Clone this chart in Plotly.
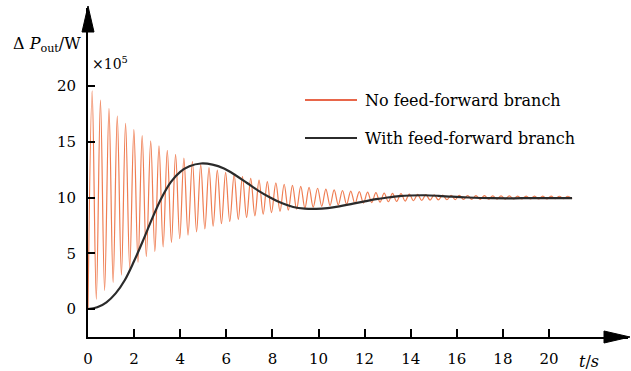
import plotly.graph_objects as go

# ---- data ----
t_orange = [
    0.00, 0.18, 0.36, 0.54, 0.72, 0.91, 1.09, 1.27, 1.45, 1.63,
    1.81, 1.99, 2.17, 2.35, 2.53, 2.72, 2.90, 3.08, 3.26, 3.44,
    3.62, 3.80, 3.98, 4.16, 4.34, 4.53, 4.71, 4.89, 5.07, 5.25,
    5.43, 5.61, 5.79, 5.97, 6.15, 6.34, 6.52, 6.70, 6.88, 7.06,
    7.24, 7.42, 7.60, 7.78, 7.96, 8.15, 8.33, 8.51, 8.69, 8.87,
    9.05, 9.23, 9.41, 9.59, 9.77, 9.96, 10.14, 10.32, 10.50, 10.68,
    10.86, 11.04, 11.22, 11.40, 11.58, 11.77, 11.95, 12.13, 12.31, 12.49,
    12.67, 12.85, 13.03, 13.21, 13.39, 13.58, 13.76, 13.94, 14.12, 14.30,
    14.48, 14.66, 14.84, 15.02, 15.20, 15.39, 15.57, 15.75, 15.93, 16.11,
    16.29, 16.47, 16.65, 16.83, 17.01, 17.20, 17.38, 17.56, 17.74, 17.92,
    18.10, 18.28, 18.46, 18.64, 18.82, 19.01, 19.19, 19.37, 19.55, 19.73,
    19.91, 20.09, 20.27, 20.45, 20.63, 20.82, 21.00,
]
p_no_ff = [
    0.00, 19.56, 0.87, 18.73, 1.66, 17.98, 2.38, 17.29, 3.04, 16.66,
    3.64, 16.08, 4.19, 15.55, 4.69, 15.07, 5.15, 14.63, 5.57, 14.23,
    5.96, 13.87, 6.31, 13.53, 6.63, 13.23, 6.92, 12.95, 7.18, 12.69,
    7.43, 12.46, 7.65, 12.25, 7.85, 12.05, 8.04, 11.87, 8.21, 11.71,
    8.36, 11.56, 8.51, 11.43, 8.64, 11.31, 8.75, 11.19, 8.86, 11.09,
    8.96, 11.00, 9.05, 10.91, 9.13, 10.83, 9.21, 10.76, 9.28, 10.69,
    9.34, 10.63, 9.40, 10.58, 9.45, 10.53, 9.50, 10.48, 9.54, 10.44,
    9.58, 10.40, 9.62, 10.37, 9.65, 10.34, 9.68, 10.31, 9.71, 10.28,
    9.73, 10.26, 9.76, 10.24, 9.78, 10.22, 9.80, 10.20, 9.81, 10.19,
    9.82, 10.18, 9.83, 10.17, 9.84, 10.16, 9.85, 10.15, 9.86, 10.14,
    9.86, 10.14, 9.87, 10.13, 9.87, 10.13, 9.88, 10.12, 9.88, 10.12,
    9.88, 10.12, 9.89, 10.11, 9.89, 10.11, 9.89,
]

t_black = [0.0, 0.4, 0.8, 1.2, 1.6, 2.0, 2.4, 2.8, 3.2, 3.6, 4.0, 4.4, 4.9,
           5.4, 5.9, 6.4, 6.9, 7.4, 7.9, 8.4, 8.9, 9.4, 9.9, 10.4, 10.9,
           11.5, 12.0, 12.5, 13.0, 13.5, 14.0, 14.6, 15.2, 15.8, 16.5,
           17.5, 18.5, 19.5, 21.0]
p_with_ff = [0.0, 0.15, 0.6, 1.4, 2.6, 4.3, 6.2, 8.2, 10.0, 11.4, 12.3, 12.8, 13.05,
             12.95, 12.6, 12.0, 11.3, 10.6, 10.0, 9.5, 9.15, 9.0, 8.98, 9.05, 9.2,
             9.45, 9.65, 9.85, 10.0, 10.12, 10.18, 10.2, 10.15, 10.07, 10.0,
             9.94, 9.93, 9.95, 9.95]

x_ticks = [0, 2, 4, 6, 8, 10, 12, 14, 16, 18, 20]
y_ticks = [0, 5, 10, 15, 20]
series_names = ["No feed-forward branch", "With feed-forward branch"]

ORANGE = "#EF7D52"
BLACK = "#2b2b2b"
SERIF = "DejaVu Serif"

fig = go.Figure()
fig.add_trace(go.Scatter(x=t_orange, y=p_no_ff, mode="lines", name=series_names[0],
                         line=dict(color=ORANGE, width=1.2, shape="spline", smoothing=1.0),
                         showlegend=False))
fig.add_trace(go.Scatter(x=t_black, y=p_with_ff, mode="lines", name=series_names[1],
                         line=dict(color=BLACK, width=2.2, shape="spline", smoothing=1.0),
                         showlegend=False))

W, H = 631, 371
ML, MR, MT, MB = 88, 3, 8, 34
PW = W - ML - MR
PH = H - MT - MB

def px(x):
    return (x - ML) / PW

def py(y):
    return (H - MB - y) / PH

fig.update_layout(
    width=W, height=H,
    margin=dict(l=ML, r=MR, t=MT, b=MB, pad=0),
    paper_bgcolor="white", plot_bgcolor="white",
    font=dict(family=SERIF, size=15, color="black"),
    xaxis=dict(range=[0, PW / 23.05], tickvals=x_ticks, ticktext=[str(v) for v in x_ticks],
               showgrid=False, zeroline=False, showline=True, linecolor="black", linewidth=2,
               ticks="inside", ticklen=8, tickwidth=1.5, tickcolor="black",
               ticklabelstandoff=7, tickfont=dict(family=SERIF, size=15, color="black")),
    yaxis=dict(range=[-(H - MB - 309) / 11.15, (309 - MT) / 11.15], tickvals=y_ticks,
               ticktext=[str(v) for v in y_ticks],
               showgrid=False, zeroline=False, showline=True, linecolor="black", linewidth=2,
               ticks="inside", ticklen=7, tickwidth=1.5, tickcolor="black",
               ticklabelstandoff=7, tickfont=dict(family=SERIF, size=15, color="black")),
)

shapes = []
# arrowheads
shapes.append(dict(type="path", xref="paper", yref="paper",
                   path=f"M {px(82)} {py(32)} L {px(88)} {py(6)} L {px(94)} {py(32)} Z",
                   fillcolor="black", line=dict(color="black", width=1)))
shapes.append(dict(type="path", xref="paper", yref="paper",
                   path=f"M {px(604)} {py(331)} L {px(630)} {py(337)} L {px(604)} {py(343)} Z",
                   fillcolor="black", line=dict(color="black", width=1)))
# legend samples
shapes.append(dict(type="line", xref="paper", yref="paper", x0=px(305), x1=px(357),
                   y0=py(100), y1=py(100), line=dict(color="#E8664A", width=2)))
shapes.append(dict(type="line", xref="paper", yref="paper", x0=px(305), x1=px(357),
                   y0=py(138), y1=py(138), line=dict(color=BLACK, width=2)))
fig.update_layout(shapes=shapes)

ann = [
    dict(x=px(363), y=py(100), text=series_names[0], xanchor="left", yanchor="middle",
         font=dict(family=SERIF, size=16, color="black")),
    dict(x=px(363), y=py(138), text=series_names[1], xanchor="left", yanchor="middle",
         font=dict(family=SERIF, size=16, color="black")),
    dict(x=px(11), y=py(45), text="Δ <i>P</i><sub>out</sub>/W", xanchor="left", yanchor="middle",
         font=dict(family=SERIF, size=16, color="black")),
    dict(x=px(90), y=py(63), text="×10<sup>5</sup>", xanchor="left", yanchor="middle",
         font=dict(family=SERIF, size=14, color="black")),
    dict(x=px(577), y=py(361), text="<i>t</i>/<i>s</i>", xanchor="left", yanchor="middle",
         font=dict(family=SERIF, size=16, color="black")),
]
for a in ann:
    a.update(xref="paper", yref="paper", showarrow=False)
fig.update_layout(annotations=ann)

fig.write_html("out.html")
